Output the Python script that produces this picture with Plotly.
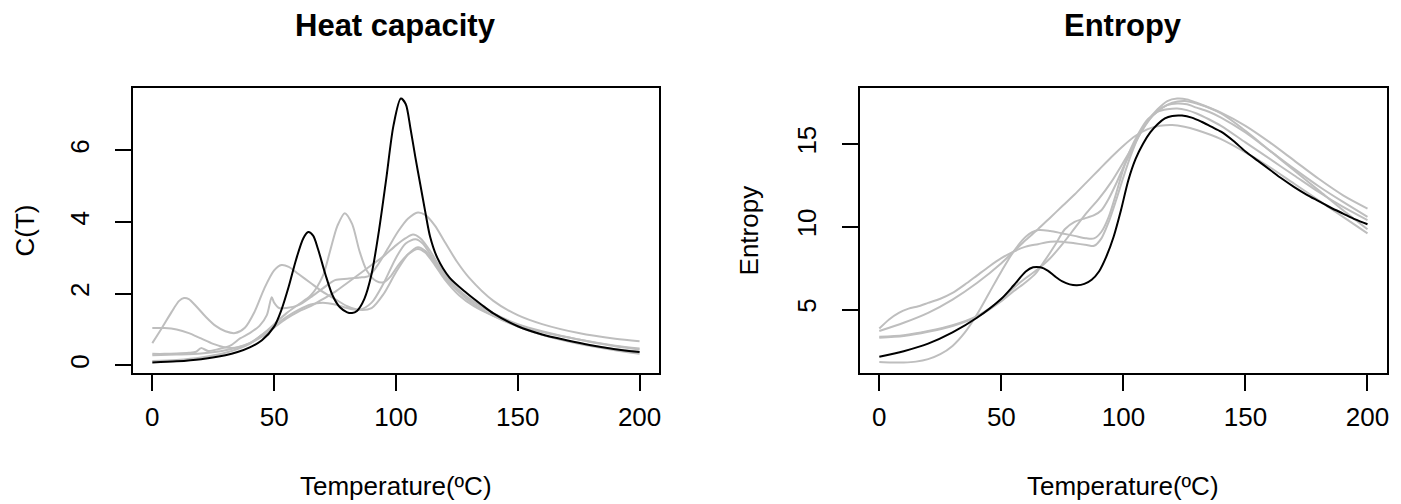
import plotly.graph_objects as go

# temperature ticks shared by both panels
temp_ticks = [0, 50, 100, 150, 200]
temp_range = [-8, 208]

# ---- heat capacity, C(T) ----
hc_ticks = [0, 2, 4, 6]

hc_black_t = [0, 10, 20, 30, 35, 40, 45, 50, 53, 56, 59, 62, 64, 66, 68, 71, 74, 77, 80, 82, 84, 87, 90, 93,
              96, 99, 102, 104, 106, 108, 110, 112, 114, 117, 122, 129, 135, 140, 150, 160, 170, 180, 190, 200]
hc_black_c = [0.08, 0.11, 0.17, 0.28, 0.37, 0.5, 0.7, 1.08, 1.55, 2.2, 2.95, 3.55, 3.72, 3.62, 3.25, 2.55,
              1.95, 1.62, 1.48, 1.46, 1.52, 1.85, 2.55, 3.75, 5.2, 6.7, 7.45, 7.3, 6.6, 5.8, 5.05, 4.3, 3.6,
              3.0, 2.45, 2.02, 1.7, 1.45, 1.09, 0.86, 0.7, 0.56, 0.45, 0.37]

hc_grey1_t = [0, 4, 8, 11, 13, 15, 18, 22, 26, 30, 34, 38, 42, 46, 50, 53, 56, 60, 65, 70, 75, 80, 85, 90,
              95, 100, 105, 109, 112, 116, 120, 125, 130, 140, 150, 160, 175, 190, 200]
hc_grey1_c = [0.62, 1.05, 1.5, 1.8, 1.88, 1.85, 1.65, 1.35, 1.1, 0.95, 0.9, 1.05, 1.5, 2.15, 2.65, 2.8, 2.75,
              2.55, 2.3, 2.05, 1.85, 1.65, 1.55, 1.6, 2.0, 2.6, 3.1, 3.3, 3.2, 2.85, 2.45, 2.1, 1.85, 1.45,
              1.15, 0.95, 0.72, 0.55, 0.47]

hc_grey2_t = [0, 5, 10, 15, 20, 25, 30, 35, 40, 45, 50, 55, 60, 65, 70, 73, 76, 79, 82, 85, 88, 92, 95, 98,
              101, 105, 109, 112, 116, 120, 126, 132, 140, 150, 160, 175, 190, 200]
hc_grey2_c = [1.04, 1.04, 1.0, 0.9, 0.75, 0.6, 0.5, 0.5, 0.62, 0.85, 1.15, 1.45, 1.7, 1.95, 2.5, 3.2, 3.9,
              4.25, 3.95, 3.2, 2.65, 2.35, 2.32, 2.5, 2.8, 3.1, 3.25, 3.15, 2.8, 2.4, 1.95, 1.65, 1.38, 1.12,
              0.93, 0.72, 0.53, 0.44]

hc_grey3_t = [0, 5, 10, 15, 18, 20, 23, 27, 32, 36, 40, 44, 47, 49, 50, 52, 55, 60, 65, 70, 75, 80, 85, 89,
              93, 97, 101, 105, 109, 112, 116, 120, 125, 130, 140, 150, 160, 175, 190, 200]
hc_grey3_c = [0.32, 0.32, 0.33, 0.35, 0.38, 0.48, 0.4, 0.45, 0.55, 0.75, 0.9, 1.1, 1.4, 1.9, 1.75, 1.6, 1.6,
              1.68, 1.9, 2.15, 2.38, 2.42, 2.45, 2.5, 2.85, 3.3, 3.75, 4.1, 4.27, 4.2, 3.9, 3.45, 2.9, 2.45,
              1.8, 1.4, 1.15, 0.9, 0.74, 0.67]

hc_grey4_t = [0, 10, 20, 30, 40, 45, 50, 55, 60, 65, 70, 75, 80, 85, 90, 95, 100, 104, 108, 111, 115, 120,
              125, 130, 140, 150, 160, 175, 190, 200]
hc_grey4_c = [0.12, 0.15, 0.22, 0.35, 0.6, 0.85, 1.1, 1.35, 1.55, 1.7, 1.75, 1.7, 1.6, 1.55, 1.75, 2.3, 3.0,
              3.4, 3.52, 3.4, 3.0, 2.5, 2.1, 1.8, 1.38, 1.08, 0.85, 0.62, 0.45, 0.38]

hc_grey5_t = [0, 10, 20, 30, 40, 45, 50, 55, 60, 65, 70, 75, 80, 85, 90, 95, 100, 104, 107, 110, 114, 118,
              123, 128, 135, 140, 150, 160, 175, 190, 200]
hc_grey5_c = [0.28, 0.3, 0.33, 0.42, 0.62, 0.8, 1.05, 1.3, 1.5, 1.65, 1.85, 2.05, 2.3, 2.55, 2.8, 3.05, 3.35,
              3.55, 3.65, 3.55, 3.2, 2.75, 2.3, 1.98, 1.65, 1.45, 1.1, 0.85, 0.6, 0.42, 0.32]

# ---- entropy ----
ent_ticks = [5, 10, 15]

ent_black_t = [0, 10, 20, 30, 40, 50, 55, 60, 63, 66, 69, 72, 75, 78, 81, 84, 87, 90, 93, 96, 99, 102, 105,
               108, 111, 114, 117, 120, 124, 128, 132, 136, 140, 145, 150, 155, 160, 165, 170, 175, 180, 185,
               190, 195, 200]
ent_black_s = [2.14, 2.48, 2.94, 3.62, 4.5, 5.65, 6.45, 7.3, 7.55, 7.55, 7.35, 7.0, 6.7, 6.52, 6.47, 6.55,
               6.8, 7.3, 8.2, 9.4, 11.0, 12.8, 14.1, 15.0, 15.7, 16.2, 16.55, 16.7, 16.72, 16.6, 16.35, 16.05,
               15.75, 15.2, 14.55, 14.0, 13.45, 12.9, 12.4, 11.95, 11.55, 11.15, 10.8, 10.45, 10.15]

ent_grey1_t = [0, 4, 8, 12, 16, 20, 25, 30, 35, 40, 45, 50, 55, 60, 65, 70, 75, 80, 85, 88, 91, 94, 97, 100,
               103, 106, 110, 114, 118, 122, 126, 130, 135, 140, 150, 160, 170, 180, 190, 200]
ent_grey1_s = [3.85, 4.4, 4.8, 5.05, 5.2, 5.4, 5.65, 6.0, 6.5, 7.05, 7.6, 8.1, 8.5, 8.8, 8.95, 9.1, 9.1, 9.0,
               8.9, 8.85, 9.3, 10.3, 11.6, 13.0, 14.3, 15.4, 16.4, 17.0, 17.35, 17.45, 17.4, 17.2, 16.95, 16.6,
               15.7, 14.6, 13.5, 12.45, 11.5, 10.6]

ent_grey2_t = [0, 10, 20, 30, 40, 50, 55, 60, 65, 70, 75, 80, 85, 90, 95, 100, 105, 110, 115, 120, 125, 130,
               140, 150, 160, 170, 180, 190, 200]
ent_grey2_s = [3.7, 4.2, 4.8, 5.6, 6.6, 7.8, 8.5, 9.2, 9.85, 10.55, 11.25, 11.95, 12.7, 13.45, 14.2, 14.9,
               15.5, 15.9, 16.1, 16.15, 16.05, 15.85, 15.3, 14.5, 13.6, 12.6, 11.6, 10.6, 9.6]

ent_grey3_t = [0, 10, 20, 30, 40, 50, 55, 60, 65, 70, 75, 80, 85, 90, 95, 100, 104, 108, 112, 116, 120, 125,
               130, 140, 150, 160, 170, 180, 190, 200]
ent_grey3_s = [3.35, 3.45, 3.7, 4.05, 4.6, 5.6, 6.3, 6.9, 7.45, 8.1, 8.95, 9.9, 10.85, 11.7, 12.7, 13.9,
               14.9, 15.9, 16.7, 17.2, 17.5, 17.6, 17.45, 16.85, 15.8, 14.6, 13.4, 12.2, 11.0, 9.85]

ent_grey4_t = [0, 10, 20, 30, 40, 50, 55, 60, 64, 68, 72, 76, 80, 84, 88, 91, 94, 97, 100, 103, 106, 110, 114,
               118, 122, 126, 130, 140, 150, 160, 170, 180, 190, 200]
ent_grey4_s = [3.3, 3.4, 3.65, 4.0, 4.55, 5.5, 6.1, 6.65, 7.17, 8.0, 8.9, 9.85, 10.3, 10.5, 10.7, 11.0, 11.7,
               12.6, 13.6, 14.5, 15.4, 16.4, 17.1, 17.6, 17.75, 17.7, 17.5, 16.9, 16.1, 15.1, 14.0, 12.9, 11.9,
               11.1]

ent_grey5_t = [0, 5, 10, 15, 20, 25, 30, 35, 40, 45, 50, 55, 60, 65, 70, 75, 80, 85, 88, 91, 94, 97, 100, 103,
               106, 110, 114, 118, 122, 126, 130, 135, 140, 150, 160, 170, 180, 190, 200]
ent_grey5_s = [1.83, 1.8, 1.8, 1.85, 2.0, 2.3, 2.8, 3.6, 4.7, 6.0, 7.3, 8.5, 9.4, 9.8, 9.75, 9.6, 9.45, 9.3,
               9.3, 9.7, 10.6, 12.0, 13.5, 14.7, 15.6, 16.5, 16.95, 17.1, 17.15, 17.05, 16.85, 16.5, 16.1, 15.1,
               14.1, 13.1, 12.1, 11.2, 10.4]

GREY = '#bebebe'
FONT = 'Liberation Sans, Arial, sans-serif'

hc_grey = [(hc_grey1_t, hc_grey1_c), (hc_grey2_t, hc_grey2_c), (hc_grey3_t, hc_grey3_c),
           (hc_grey4_t, hc_grey4_c), (hc_grey5_t, hc_grey5_c)]
ent_grey = [(ent_grey1_t, ent_grey1_s), (ent_grey2_t, ent_grey2_s), (ent_grey3_t, ent_grey3_s),
            (ent_grey4_t, ent_grey4_s), (ent_grey5_t, ent_grey5_s)]


def r_range(series):
    # base R style: data range padded by 4% each side
    lo = min(min(s) for s in series)
    hi = max(max(s) for s in series)
    pad = (hi - lo) * 0.04
    return [lo - pad, hi + pad]


fig = go.Figure()

for xa, ya, greys, black in [('x', 'y', hc_grey, (hc_black_t, hc_black_c)),
                             ('x2', 'y2', ent_grey, (ent_black_t, ent_black_s))]:
    for t, v in greys:
        fig.add_trace(go.Scatter(x=t, y=v, mode='lines', xaxis=xa, yaxis=ya,
                                 line=dict(color=GREY, width=2, shape='spline', smoothing=0.8)))
    fig.add_trace(go.Scatter(x=black[0], y=black[1], mode='lines', xaxis=xa, yaxis=ya,
                             line=dict(color='black', width=2, shape='spline', smoothing=0.8)))

# the page body has an 8px margin, so the figure is shrunk and everything
# is placed in window pixels minus that offset
OFF = 8
W, H = 1401 - OFF, 504 - OFF


def px(x):
    return (x - OFF) / W


def py(y):
    return 1 - (y - OFF) / H


box_top, box_bottom = 88, 373
y_dom = [py(box_bottom), py(box_top)]

axis_common = dict(showgrid=False, zeroline=False, showline=True, mirror=True,
                   linecolor='black', linewidth=1.5, ticks='outside', ticklen=16,
                   tickwidth=1.5, tickcolor='black',
                   tickfont=dict(family=FONT, size=26, color='black'))

fig.update_layout(
    width=W, height=H,
    margin=dict(l=0, r=0, t=0, b=0),
    paper_bgcolor='white', plot_bgcolor='white',
    showlegend=False,
    xaxis=dict(domain=[px(133), px(660)], range=temp_range, tickvals=temp_ticks,
               ticklabelstandoff=4, **axis_common),
    yaxis=dict(domain=y_dom, range=r_range([hc_black_c] + [g[1] for g in hc_grey]),
               tickvals=hc_ticks, tickangle=-90, ticklabelstandoff=16, **axis_common),
    xaxis2=dict(domain=[px(861), px(1389)], range=temp_range, tickvals=temp_ticks,
                ticklabelstandoff=4, anchor='y2', **axis_common),
    yaxis2=dict(domain=y_dom, range=r_range([ent_black_s] + [g[1] for g in ent_grey]),
                tickvals=ent_ticks, tickangle=-90, ticklabelstandoff=16, anchor='x2', **axis_common),
)

# titles and axis labels placed like base R's title()
panels = [(396.5, 'Heat capacity', 25, 'C(T)'), (1125, 'Entropy', 750, 'Entropy')]
for cx, title, ylab_x, ylab in panels:
    fig.add_annotation(x=px(cx), y=py(25), xref='paper', yref='paper', text='<b>' + title + '</b>',
                       showarrow=False, font=dict(family=FONT, size=31, color='black'),
                       xanchor='center', yanchor='middle')
    fig.add_annotation(x=px(cx), y=py(486), xref='paper', yref='paper', text='Temperature(ºC)',
                       showarrow=False, font=dict(family=FONT, size=26, color='black'),
                       xanchor='center', yanchor='middle')
    fig.add_annotation(x=px(ylab_x), y=py(230.5), xref='paper', yref='paper', text=ylab,
                       showarrow=False, textangle=-90, font=dict(family=FONT, size=26, color='black'),
                       xanchor='center', yanchor='middle')

fig.write_html('out.html')
